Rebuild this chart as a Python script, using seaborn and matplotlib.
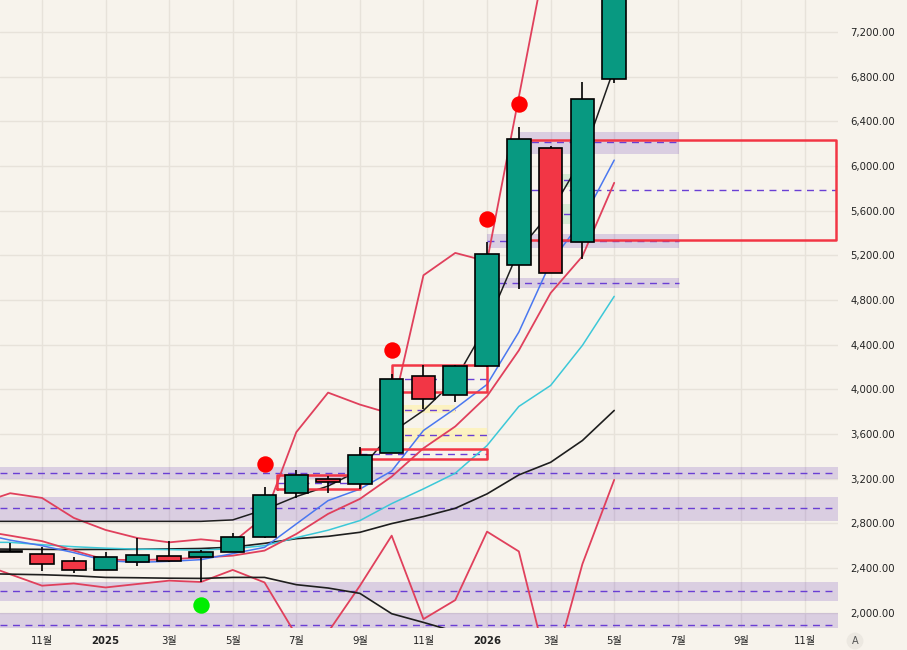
import numpy as np
import pandas as pd
import matplotlib
matplotlib.use("Agg")
import matplotlib.pyplot as plt
import seaborn as sns

# ---------------- data ----------------
# monthly candles, Oct 2024 .. May 2026 (index 0..19)
candle_idx = list(range(0, 20))
opens = [2546, 2525, 2465, 2382, 2453, 2507, 2498, 2543, 2680, 3072,
         3198, 3153, 3431, 4115, 3951, 4207, 5117, 6157, 5323, 6776]
closes = [2550, 2436, 2382, 2498, 2519, 2462, 2546, 2680, 3054, 3233,
          3171, 3413, 4094, 3915, 4205, 5215, 6238, 5045, 6596, 7650]
highs = [2620, 2584, 2501, 2539, 2668, 2644, 2561, 2710, 3122, 3281,
         3227, 3481, 4139, 4214, 4214, 5319, 6351, 6180, 6754, 7750]
lows = [2544, 2375, 2351, 2380, 2420, 2455, 2277, 2540, 2670, 3024,
        3069, 3108, 3425, 3825, 3885, 4200, 4898, 5040, 5171, 6746]

# indicator lines, Sep 2024 .. May 2026 (index -1..19)
line_idx = list(range(-1, 20))
bb_upper = [2974, 3069, 3027, 2848, 2740, 2668, 2629, 2656, 2629, 2859, 3616,
            3970, 3863, 3779, 5021, 5221, 5146, 6617, 8090, 8400, 8900]
bb_lower = [2446, 2343, 2241, 2261, 2225, 2256, 2286, 2274, 2382, 2270, 1795,
            1825, 2240, 2689, 1942, 2112, 2725, 2548, 1400, 2435, 3189]
ma_blue = [2710, 2649, 2599, 2537, 2465, 2450, 2459, 2474, 2528, 2584, 2794,
           3003, 3106, 3268, 3631, 3828, 4043, 4512, 5137, 5514, 6052]
ma_red = [2736, 2689, 2640, 2555, 2474, 2470, 2478, 2492, 2510, 2555, 2704,
          2884, 3018, 3218, 3472, 3667, 3938, 4348, 4862, 5191, 5849]
ma_cyan = [2629, 2629, 2608, 2590, 2577, 2568, 2564, 2559, 2573, 2599, 2671,
           2738, 2824, 2976, 3108, 3248, 3496, 3846, 4034, 4393, 4832]
black_fast = [2817, 2817, 2817, 2817, 2817, 2817, 2817, 2817, 2830, 2922, 3039,
              3133, 3277, 3613, 3810, 4084, 4581, 5245, 5586, 6070, 6877]
black_slow = [2570, 2568, 2566, 2565, 2566, 2567, 2570, 2574, 2586, 2620, 2662,
              2683, 2719, 2797, 2860, 2934, 3063, 3233, 3346, 3541, 3810]
black_low = [2350, 2344, 2339, 2330, 2315, 2312, 2308, 2306, 2315, 2315, 2250,
             2220, 2172, 1990, 1912, 1830, 1800, 1790, 1780, 1780, 1780]

# full-width purple zones (low, high, mid)
zone_lo = [3196, 2817, 2106, 1855]
zone_hi = [3305, 3033, 2277, 1996]
zone_mid = [3252, 2934, 2196, 1891]

# right-side purple zones (start index, low, high, mid)
rzone_start = [16, 15, 15]
rzone_lo = [6106, 5269, 4910]
rzone_hi = [6306, 5386, 5000]
rzone_mid = [6211, 5328, 4952]

# red boxes (start, end, low, high, mid)
box_start = [16, 12, 11, 8.4]
box_end = [25.98, 15, 15, 11]
box_lo = [5339, 3972, 3377, 3104]
box_hi = [6231, 4214, 3467, 3233]
box_mid = [5783, 4094, 3422, 3158]

# yellow zones
yzone_start = [12, 12]
yzone_end = [14, 15]
yzone_lo = [3786, 3526]
yzone_hi = [3855, 3655]
yzone_mid = [3816, 3592]

# green zones
gzone_lo = [5813, 5479]
gzone_hi = [5930, 5658]
gzone_mid = [5874, 5568]

# signal dots
red_dot_idx = [8, 12, 15, 16]
red_dot_val = [3330, 4352, 5523, 6552]
green_dot_idx = [6]
green_dot_val = [2070]

# x ticks
tick_idx = [1, 3, 5, 7, 9, 11, 13, 15, 17, 19, 21, 23, 25]
tick_labels = ["11월", "2025", "3월", "5월", "7월", "9월", "11월", "2026",
               "3월", "5월", "7월", "9월", "11월"]
y_ticks = [2000, 2400, 2800, 3200, 3600, 4000, 4400, 4800, 5200, 5600, 6000,
           6400, 6800, 7200]

# ---------------- style ----------------
BG = "#f7f3ec"
GRID = "#e7e2da"
GREEN = "#089981"
RED = "#f23645"
BAND_RED = "#e0405c"
PURPLE = "#673ab7"
DASH = "#6a3fd4"

sns.set_theme(style="white")
plt.rcParams["font.family"] = ["DejaVu Sans", "Noto Sans CJK KR"]

fig = plt.figure(figsize=(9.07, 6.5), dpi=100)
fig.patch.set_facecolor(BG)
ax = fig.add_axes([0, 22 / 650, 838 / 907, 628 / 650])
ax.set_facecolor(BG)

XL, XR = -0.321, 26.04
ax.set_xlim(XL, XR)
ax.set_ylim(1862, 7486)

# grid
for t in tick_idx:
    ax.axvline(t, color=GRID, lw=1, zorder=0)
for t in y_ticks:
    ax.axhline(t, color=GRID, lw=1, zorder=0)

dash_style = (0, (5, 4))

# full zones
for lo, hi, mid in zip(zone_lo, zone_hi, zone_mid):
    ax.axhspan(lo, hi, color=PURPLE, alpha=0.2, lw=0, zorder=1)
    ax.axhline(mid, color=DASH, lw=1, ls=dash_style, zorder=1.5)

# right zones
for s, lo, hi, mid in zip(rzone_start, rzone_lo, rzone_hi, rzone_mid):
    ax.fill_between([s, 21.05], lo, hi, color=PURPLE, alpha=0.2, lw=0, zorder=1)
    ax.plot([s, 21.05], [mid, mid], color=DASH, lw=1, ls=dash_style, zorder=1.5)

# yellow zones
for s, e, lo, hi, mid in zip(yzone_start, yzone_end, yzone_lo, yzone_hi, yzone_mid):
    ax.fill_between([s, e], lo, hi, color="#fff2b3", alpha=0.75, lw=0, zorder=1)
    ax.plot([s, e], [mid, mid], color=DASH, lw=1, ls=dash_style, zorder=1.5)

# green zones
for lo, hi, mid in zip(gzone_lo, gzone_hi, gzone_mid):
    ax.fill_between([17, 18], lo, hi, color="#cfe8cf", alpha=0.8, lw=0, zorder=1)
    ax.plot([17, 18], [mid, mid], color=DASH, lw=1, ls=dash_style, zorder=1.5)

# red boxes
for s, e, lo, hi, mid in zip(box_start, box_end, box_lo, box_hi, box_mid):
    ax.plot([s, e, e, s, s], [lo, lo, hi, hi, lo], color=RED, lw=1.8, zorder=3)
    ax.plot([s, e], [mid, mid], color=DASH, lw=1, ls=dash_style, zorder=1.5)

# indicator lines via seaborn
series = {
    "bb_upper": (bb_upper, BAND_RED, 1.3),
    "bb_lower": (bb_lower, BAND_RED, 1.3),
    "black_low": (black_low, "#1e1e1e", 1.2),
    "black_slow": (black_slow, "#1e1e1e", 1.2),
    "ma_cyan": (ma_cyan, "#3cc8d8", 1.1),
    "ma_red": (ma_red, BAND_RED, 1.3),
    "ma_blue": (ma_blue, "#4a78f0", 1.1),
    "black_fast": (black_fast, "#1e1e1e", 1.1),
}
rows = []
for name, (vals, _, _) in series.items():
    for i, v in zip(line_idx, vals):
        rows.append({"idx": i, "value": v, "series": name})
df_lines = pd.DataFrame(rows)
for name, (_, col, lw) in series.items():
    sub = df_lines[df_lines["series"] == name]
    sns.lineplot(data=sub, x="idx", y="value", color=col, lw=lw, ax=ax,
                 legend=False, estimator=None, sort=False, zorder=2)

# candles
df_c = pd.DataFrame({"idx": candle_idx, "open": opens, "close": closes,
                     "high": highs, "low": lows})
df_c["bottom"] = df_c[["open", "close"]].min(axis=1)
df_c["height"] = (df_c["close"] - df_c["open"]).abs().clip(lower=8)
df_c["color"] = np.where(df_c["close"] >= df_c["open"], GREEN, RED)
ax.vlines(df_c["idx"], df_c["low"], df_c["high"], color="black", lw=1.2, zorder=4)
ax.bar(df_c["idx"], df_c["height"], bottom=df_c["bottom"], width=0.74,
       color=df_c["color"], edgecolor="black", linewidth=1.2, zorder=5)

# signal dots
ax.scatter(red_dot_idx, red_dot_val, s=140, color="#ff0000", zorder=6, lw=0)
ax.scatter(green_dot_idx, green_dot_val, s=140, color="#00ee00", zorder=6, lw=0)

# axes formatting
ax.set_xticks(tick_idx)
ax.set_xticklabels(tick_labels)
for lab in ax.get_xticklabels():
    if lab.get_text() in ("2025", "2026"):
        lab.set_fontweight("bold")
ax.set_yticks(y_ticks)
ax.set_yticklabels([f"{v:,.2f}" for v in y_ticks])
ax.yaxis.tick_right()
ax.tick_params(axis="y", length=0, pad=9, labelsize=7.3, labelcolor="#222222")
ax.tick_params(axis="x", length=0, pad=6, labelsize=7.3, labelcolor="#222222")
ax.set_xlabel("")
ax.set_ylabel("")
for sp in ax.spines.values():
    sp.set_visible(False)

fig.text(855 / 907, 1 - 641 / 650, "A", ha="center", va="center", fontsize=7,
         color="#555555",
         bbox=dict(boxstyle="circle,pad=0.35", fc="#ece8e1", ec="none"))

fig.savefig("out.png", dpi=100, facecolor=BG)
